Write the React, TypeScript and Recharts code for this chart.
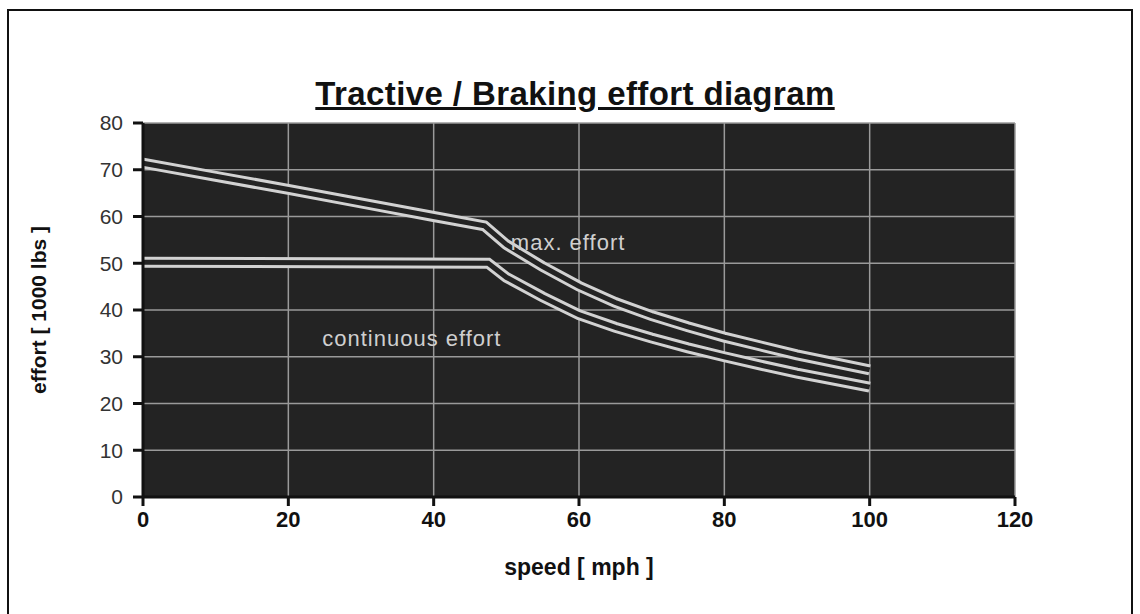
import React from "react";
import {
  LineChart,
  Line,
  XAxis,
  YAxis,
  CartesianGrid,
  ReferenceDot,
} from "recharts";

const maxSpeed = [0, 10, 20, 30, 40, 47, 50, 55, 60, 65, 70, 75, 80, 85, 90, 95, 100];
const maxEffort = [71.4, 68.6, 65.8, 62.9, 60, 58, 54, 49.3, 45.1, 41.6, 38.8, 36.4, 34.2, 32.3, 30.4, 28.8, 27.2];

const contSpeed = [0, 47.5, 50, 55, 60, 65, 70, 75, 80, 85, 90, 95, 100];
const contEffort = [50.2, 50, 47, 42.8, 39, 36.3, 34, 31.9, 30, 28.2, 26.5, 25, 23.5];

const xTicks = [0, 20, 40, 60, 80, 100, 120];
const yTicks = [0, 10, 20, 30, 40, 50, 60, 70, 80];

const maxData = maxSpeed.map((s, i) => ({ speed: s, effort: maxEffort[i] }));
const contData = contSpeed.map((s, i) => ({ speed: s, effort: contEffort[i] }));

const FONT = "'Liberation Sans', Arial, sans-serif";
const BG = "#232323";
const RIM = "#d2d2d2";

const TractiveChart: React.FC = () => {
  return (
    <div
      style={{
        position: "absolute",
        left: 0,
        top: 0,
        width: 1140,
        height: 614,
        background: "#fff",
        fontFamily: FONT,
      }}
    >
      {/* outer frame */}
      <div
        style={{
          position: "absolute",
          left: 7,
          top: 9,
          width: 1126,
          height: 610,
          border: "2px solid #111",
          boxSizing: "border-box",
        }}
      />
      <div
        style={{
          position: "absolute",
          left: 0,
          width: 1150,
          top: 75,
          textAlign: "center",
          fontWeight: "bold",
          fontSize: 33,
          letterSpacing: 0.4,
          textDecoration: "underline",
          color: "#111",
        }}
      >
        Tractive / Braking effort diagram
      </div>
      <div style={{ position: "absolute", left: 0, top: 0 }}>
        <LineChart
          width={1140}
          height={614}
          margin={{ top: 123, right: 125, bottom: 37, left: 83 }}
        >
          <CartesianGrid
            stroke="#9a9a9a"
            strokeWidth={1.5}
            fill={BG}
            fillOpacity={1}
            horizontalValues={yTicks}
            verticalValues={xTicks}
          />
          <XAxis
            type="number"
            dataKey="speed"
            domain={[0, 120]}
            ticks={xTicks}
            allowDuplicatedCategory={false}
            height={80}
            stroke="#111"
            strokeWidth={3}
            tickSize={9}
            tickMargin={5}
            tick={{ fill: "#111", fontSize: 22, fontWeight: "bold", fontFamily: FONT }}
            label={{
              value: "speed [ mph ]",
              position: "insideBottom",
              offset: 2,
              fill: "#111",
              fontSize: 23,
              fontWeight: "bold",
              fontFamily: FONT,
            }}
          />
          <YAxis
            type="number"
            domain={[0, 80]}
            ticks={yTicks}
            width={60}
            stroke="#111"
            strokeWidth={3}
            tickSize={10}
            tickMargin={10}
            tick={{ fill: "#333", fontSize: 21, fontFamily: FONT }}
            label={{
              value: "effort [ 1000 lbs ]",
              angle: -90,
              position: "insideLeft",
              offset: -44,
              style: { textAnchor: "middle" },
              fill: "#111",
              fontSize: 21,
              fontWeight: "bold",
              fontFamily: FONT,
            }}
          />
          <Line
            data={maxData}
            dataKey="effort"
            type="linear"
            stroke={RIM}
            strokeWidth={11}
            dot={false}
            isAnimationActive={false}
          />
          <Line
            data={maxData}
            dataKey="effort"
            type="linear"
            stroke={BG}
            strokeWidth={5}
            dot={false}
            isAnimationActive={false}
          />
          <Line
            data={contData}
            dataKey="effort"
            type="linear"
            stroke={RIM}
            strokeWidth={11}
            dot={false}
            isAnimationActive={false}
          />
          <Line
            data={contData}
            dataKey="effort"
            type="linear"
            stroke={BG}
            strokeWidth={5}
            dot={false}
            isAnimationActive={false}
          />
          <ReferenceDot
            x={58.5}
            y={54.5}
            r={0}
            label={{
              value: "max. effort",
              position: "center",
              fill: "#cfcfcf",
              fontSize: 22,
              letterSpacing: 1,
              fontFamily: FONT,
            }}
          />
          <ReferenceDot
            x={37}
            y={34}
            r={0}
            label={{
              value: "continuous effort",
              position: "center",
              fill: "#cfcfcf",
              fontSize: 22,
              letterSpacing: 1,
              fontFamily: FONT,
            }}
          />
        </LineChart>
      </div>
    </div>
  );
};

export default function App() {
  return <TractiveChart />;
}
